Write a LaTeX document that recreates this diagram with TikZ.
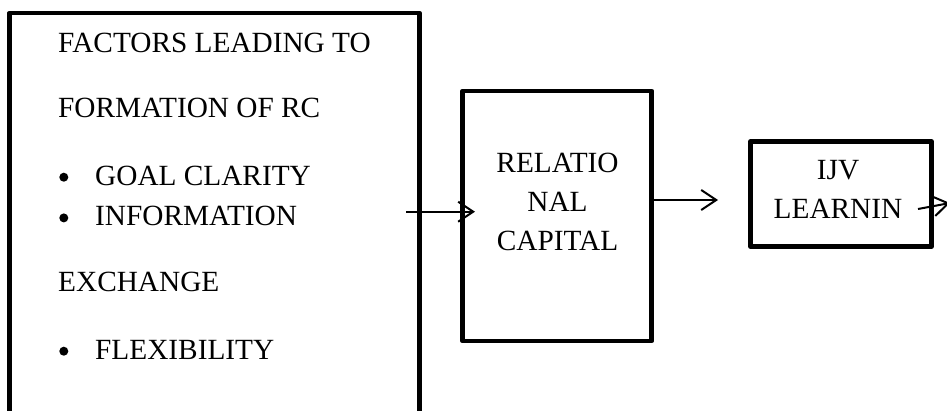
\documentclass[tikz,border=0pt]{standalone}
\usepackage{fontspec}
\setmainfont{Liberation Serif}
\usetikzlibrary{arrows.meta}
\begin{document}
\begin{tikzpicture}[x=1pt,y=-1pt,
  box/.style={draw,line width=4.8pt,line join=round,inner sep=0pt},
  txt/.style={inner sep=0pt,font=\fontsize{29.3}{34}\selectfont},
  lefttxt/.style={txt,anchor=base west},
  midtxt/.style={txt,anchor=base},
  dot/.style={circle,fill,inner sep=0pt,minimum size=9pt},
  conn/.style={line width=2pt,-{Straight Barb[length=15pt,width=20pt,line width=2pt]}}]
  \clip (0,0) rectangle (947,410);

  % boxes
  \node[box,minimum width=410pt,minimum height=437pt] (factors) at (214.5,231.5) {};
  \node[box,minimum width=189pt,minimum height=250pt] (rc) at (557.2,215.9) {};
  \node[box,minimum width=181pt,minimum height=105pt] (ijv) at (841,194) {};

  % factor list
  \node[lefttxt] (f1) at (58,52.3) {FACTORS LEADING TO};
  \node[lefttxt] (f2) at (58,117.3) {FORMATION OF RC};
  \node[dot] (b1) at (63.8,177.2) {};
  \node[lefttxt] (f3) at (95,185) {GOAL CLARITY};
  \node[dot] (b2) at (63.8,217.9) {};
  \node[lefttxt] (f4) at (95,225.7) {INFORMATION};
  \node[lefttxt] (f5) at (58,291.7) {EXCHANGE};
  \node[dot] (b3) at (63.8,351.2) {};
  \node[lefttxt] (f6) at (95,359) {FLEXIBILITY};

  % relational capital
  \node[midtxt] (r1) at (557.5,172.7) {RELATIO};
  \node[midtxt] (r2) at (557.5,211.7) {NAL};
  \node[midtxt] (r3) at (557.5,250) {CAPITAL};

  % ijv learning
  \node[midtxt] (i1) at (838,179.3) {IJV};
  \node[midtxt] (i2) at (838,218.3) {LEARNIN};

  % connectors
  \coordinate (a1s) at (406,211.7);
  \coordinate (a1e) at (475,211.7);
  \coordinate (a2e) at (718,200);
  \coordinate (a3s) at (918,209);
  \coordinate (a3e) at (950,203);
  \draw[conn] (a1s) -- (a1e);
  \draw[conn] (rc.east |- a2e) -- (a2e);
  \draw[conn] (a3s) -- (a3e);
\end{tikzpicture}
\end{document}
